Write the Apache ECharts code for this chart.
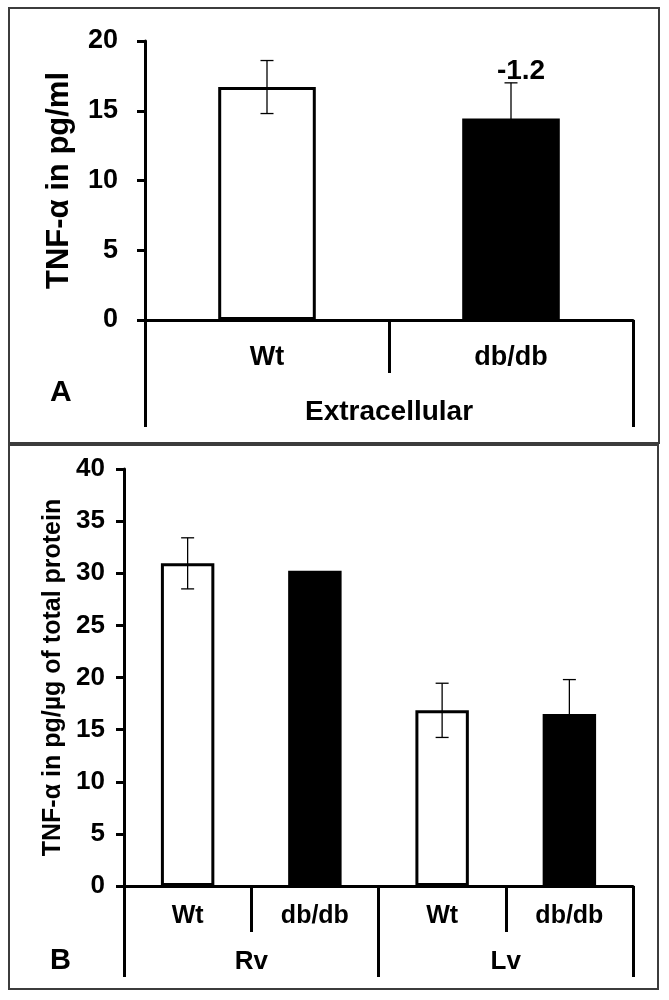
<!DOCTYPE html>
<html>
<head>
<meta charset="utf-8">
<script src="https://cdn.jsdelivr.net/npm/echarts@6/dist/echarts.min.js"></script>
<style>html,body{margin:0;padding:0;background:#fff}#c{width:669px;height:1000px}</style>
</head>
<body>
<div id="c"></div>
<script>
// ---- Data ----
const catsA = ['Wt', 'db/db'];
const groupA = ['Extracellular'];
const valsA = [16.7, 14.45];
const errA = [1.9, 2.55];
const annotA = ['', '-1.2'];
const yTicksA = [0, 5, 10, 15, 20];
const yNameA = 'TNF-α in pg/ml';

const catsB = ['Wt', 'db/db', 'Wt', 'db/db'];
const groupB = ['Rv', 'Lv'];
const valsB = [30.95, 30.25, 16.85, 16.5];
const errB = [2.45, null, 2.6, 3.3];
const annotB = ['', '', '', ''];
const yTicksB = [0, 5, 10, 15, 20, 25, 30, 35, 40];
const yNameB = 'TNF-α in pg/µg of total protein';

// ---- Build ----
const FONT = 'Liberation Sans, Arial, sans-serif';
const fillFor = c => (c === 'Wt' ? '#ffffff' : '#000000');

function barData(cats, vals) {
  return vals.map((v, i) => ({
    value: v,
    itemStyle: { color: fillFor(cats[i]), borderColor: '#000', borderWidth: 3 }
  }));
}
function errData(vals, errs, annots) {
  const out = [];
  vals.forEach((v, i) => { if (errs[i] != null) out.push([i, v, errs[i], annots[i]]); });
  return out;
}
function errRender(params, api) {
  const i = api.value(0), v = api.value(1), e = api.value(2);
  const ann = api.value(3);
  const top = api.coord([i, v + e]);
  const bot = api.coord([i, v - e]);
  const hw = 6.5;
  const st = { stroke: '#000', lineWidth: 1.3 };
  const children = [
    { type: 'line', shape: { x1: top[0], y1: top[1], x2: bot[0], y2: bot[1] }, style: st },
    { type: 'line', shape: { x1: top[0] - hw, y1: top[1], x2: top[0] + hw, y2: top[1] }, style: st },
    { type: 'line', shape: { x1: bot[0] - hw, y1: bot[1], x2: bot[0] + hw, y2: bot[1] }, style: st }
  ];
  if (ann && ann !== '' && ann !== '-') {
    children.push({ type: 'text', style: { text: String(ann), x: top[0] + 10, y: top[1] + 2,
      align: 'center', verticalAlign: 'bottom', font: 'bold 28px ' + FONT, fill: '#000' } });
  }
  return { type: 'group', children };
}

const yAxisBase = (ticks, name, nameGap, nameSize, labelSize, margin) => ({
  type: 'value',
  min: ticks[0], max: ticks[ticks.length - 1], interval: ticks[1] - ticks[0],
  name: name, nameLocation: 'middle', nameGap: nameGap,
  nameTextStyle: { fontFamily: FONT, fontWeight: 'bold', fontSize: nameSize, color: '#000' },
  axisLine: { show: true, lineStyle: { color: '#000', width: 3 } },
  axisTick: { show: true, inside: false, length: 8, lineStyle: { color: '#000', width: 3 } },
  axisLabel: { fontFamily: FONT, fontWeight: 'bold', fontSize: labelSize, color: '#000', margin: margin },
  splitLine: { show: false }
});
const xAxisBase = (grid, cats, tickLen, labelMargin, labelSize, showLine) => ({
  type: 'category', gridIndex: grid, data: cats, position: 'bottom',
  axisLine: { show: showLine, lineStyle: { color: '#000', width: 3 } },
  axisTick: { show: true, alignWithLabel: false, interval: 0, length: tickLen, lineStyle: { color: '#000', width: 3 } },
  axisLabel: { interval: 0, fontFamily: FONT, fontWeight: 'bold', fontSize: labelSize, color: '#000', margin: labelMargin },
  splitLine: { show: false }
});

const option = {
  animation: false,
  backgroundColor: '#fff',
  grid: [
    { left: 145, right: 36, top: 41, height: 279 },
    { left: 124, right: 36, top: 469, height: 417 }
  ],
  xAxis: [
    xAxisBase(0, catsA, 53, 24, 27, true),
    xAxisBase(0, groupA, 107, 78, 28, false),
    xAxisBase(1, catsB, 46, 18, 25, true),
    xAxisBase(1, groupB, 91, 63, 26, false)
  ],
  yAxis: [
    Object.assign(yAxisBase(yTicksA, yNameA, 70, 31, 27, 27), { gridIndex: 0 }),
    Object.assign(yAxisBase(yTicksB, yNameB, 56, 25, 26, 19), { gridIndex: 1 })
  ],
  series: [
    { type: 'bar', xAxisIndex: 0, yAxisIndex: 0, barWidth: '40%', data: barData(catsA, valsA), z: 2 },
    { type: 'custom', xAxisIndex: 0, yAxisIndex: 0, renderItem: errRender, data: errData(valsA, errA, annotA), z: 5 },
    { type: 'bar', xAxisIndex: 2, yAxisIndex: 1, barWidth: '42%', data: barData(catsB, valsB), z: 2 },
    { type: 'custom', xAxisIndex: 2, yAxisIndex: 1, renderItem: errRender, data: errData(valsB, errB, annotB), z: 5 }
  ],
  graphic: [
    { type: 'rect', shape: { x: 9, y: 8, width: 650, height: 435 }, style: { fill: 'none', stroke: '#3c3c3c', lineWidth: 2 }, z: 0 },
    { type: 'rect', shape: { x: 9, y: 445, width: 649, height: 544 }, style: { fill: 'none', stroke: '#3c3c3c', lineWidth: 2 }, z: 0 },
    { type: 'text', left: 50, top: 378, style: { text: 'A', font: 'bold 30px ' + FONT, fill: '#000' } },
    { type: 'text', left: 50, top: 946, style: { text: 'B', font: 'bold 29px ' + FONT, fill: '#000' } }
  ]
};

const chart = echarts.init(document.getElementById('c'), null, { renderer: 'canvas' });
chart.setOption(option);
</script>
</body>
</html>
